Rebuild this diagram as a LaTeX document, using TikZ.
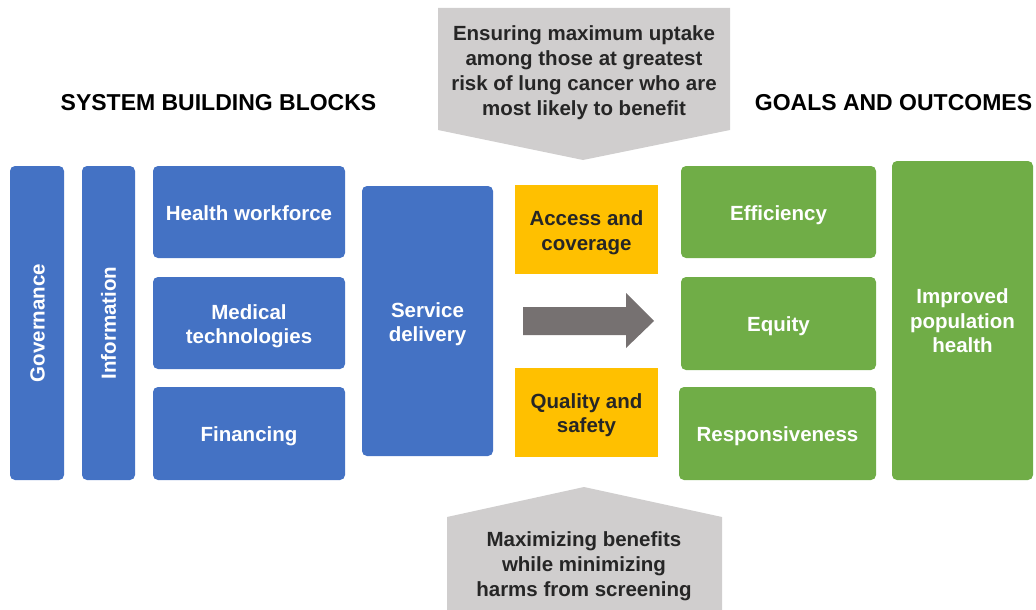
\documentclass[tikz,border=0pt]{standalone}
\usepackage{fontspec}
\setmainfont{Liberation Sans}
\definecolor{cblue}{HTML}{4472C4}
\definecolor{cgreen}{HTML}{70AD47}
\definecolor{cyellow}{HTML}{FFC000}
\definecolor{cgray}{HTML}{D0CECE}
\definecolor{carrow}{HTML}{767171}
\definecolor{ctext}{HTML}{262626}
\begin{document}
\begin{tikzpicture}[x=1pt,y=-1pt,
  box/.style={rectangle, rounded corners=5pt, inner sep=0pt},
  bluebox/.style={box, fill=cblue},
  greenbox/.style={box, fill=cgreen},
  yellowbox/.style={box, rounded corners=0pt, fill=cyellow},
  txt/.style={inner sep=0pt, align=center, font=\fontsize{20.5}{24.5}\selectfont\bfseries},
  wtxt/.style={txt, text=white},
  dtxt/.style={txt, text=ctext},
  calltext/.style={inner sep=0pt, align=center, text=ctext,
    font=\fontsize{20.5}{24.8}\selectfont\bfseries},
  heading/.style={inner sep=0pt, text=black, font=\fontsize{23}{27}\selectfont\bfseries}]
\useasboundingbox (0,0) rectangle (1036,610);
% callouts
\fill[cgray] (438,8) -- (730,8) -- (730,130) -- (583,160) -- (438,130) -- cycle;
\node[calltext] (topc) at (584,72.5) {Ensuring maximum uptake\\among those at greatest\\risk of lung cancer who are\\most likely to benefit};
\fill[cgray] (447,611) -- (447,517) -- (584,487) -- (722,517) -- (722,611) -- cycle;
\node[calltext] (botc) at (584,566) {Maximizing benefits\\while minimizing\\harms from screening};
% headings
\node[heading] (h1) at (218.5,103) {SYSTEM BUILDING BLOCKS};
\node[heading] (h2) at (893.5,103) {GOALS AND OUTCOMES};
% blue blocks
\node[bluebox, minimum width=54pt, minimum height=314pt] (gov) at (37,323) {};
\node[wtxt, rotate=90] (govt) at ([xshift=0.5pt]gov.center) {Governance};
\node[bluebox, minimum width=53pt, minimum height=314pt] (info) at (108.5,323) {};
\node[wtxt, rotate=90] (infot) at (info.center) {Information};
\node[bluebox, minimum width=192pt, minimum height=92pt] (hw) at (249,212) {};
\node[wtxt] (hwt) at ([yshift=-1.5pt]hw.center) {Health workforce};
\node[bluebox, minimum width=192pt, minimum height=92pt] (mt) at (249,323) {};
\node[wtxt] (mtt) at ([yshift=-3pt]mt.center) {Medical\\technologies};
\node[bluebox, minimum width=192pt, minimum height=93pt] (fin) at (249,433.5) {};
\node[wtxt] (fint) at ([yshift=-3pt]fin.center) {Financing};
\node[bluebox, minimum width=131pt, minimum height=270pt] (sd) at (427.5,321) {};
\node[wtxt] (sdt) at ([yshift=-3pt]sd.center) {Service\\delivery};
% yellow
\node[yellowbox, minimum width=143pt, minimum height=89pt] (ac) at (586.5,229.5) {};
\node[dtxt] (act) at ([yshift=-3pt]ac.center) {Access and\\coverage};
\node[yellowbox, minimum width=143pt, minimum height=89pt] (qs) at (586.5,412.5) {};
\node[dtxt] (qst) at ([yshift=-2.5pt]qs.center) {Quality and\\safety};
% arrow
\fill[carrow] (523,307) -- (626,307) -- (626,293) -- (654,321) -- (626,348) -- (626,335) -- (523,335) -- cycle;
% green
\node[greenbox, minimum width=195pt, minimum height=92pt] (eff) at (778.5,212) {};
\node[wtxt] (efft) at ([yshift=-3pt]eff.center) {Efficiency};
\node[greenbox, minimum width=195pt, minimum height=93pt] (eq) at (778.5,323.5) {};
\node[wtxt] (eqt) at ([yshift=-3pt]eq.center) {Equity};
\node[greenbox, minimum width=197pt, minimum height=93pt] (resp) at (777.5,433.5) {};
\node[wtxt] (respt) at ([yshift=-3pt]resp.center) {Responsiveness};
\node[greenbox, minimum width=141pt, minimum height=319pt] (iph) at (962.5,320.5) {};
\node[wtxt] (ipht) at ([yshift=-0.5pt]iph.center) {Improved\\population\\health};
\end{tikzpicture}
\end{document}
